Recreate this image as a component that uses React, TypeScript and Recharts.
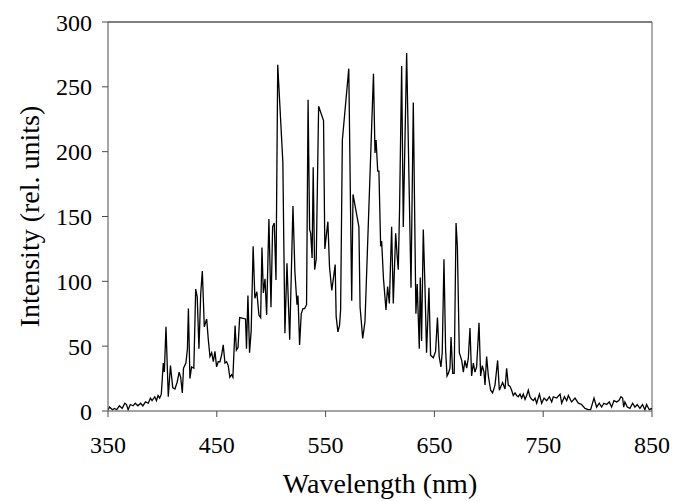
import { LineChart, Line, XAxis, YAxis, ReferenceLine, Label } from 'recharts'

// wavelength (nm) and intensity
const wavelengths = [
  350, 351.5, 354, 356, 358, 360.5, 363, 365.5, 367, 368.5, 370.5, 373, 375, 377.5, 380, 382, 384.5, 387, 389, 390.5,
  393, 394.5, 396, 397.5, 399, 400.8, 401.8, 403.3, 405.4, 407.4, 409.5, 411.5, 413.5, 415.4, 416.8, 418.3, 419.4, 421.6, 423, 423.9,
  425.3, 426.8, 428.9, 430.6, 432, 433.6, 435.2, 436.7, 438.5, 440.7, 442.2, 443.7, 445.3, 446.8, 448.3, 449.8, 451.3, 452.9, 454.4, 455.9,
  457.5, 459, 460.5, 462, 463.6, 464.8, 466.8, 468, 469.5, 471, 476.4, 477.3, 478.6, 480.1, 481.6, 483.4, 485, 486.8, 488.7, 490.3,
  491.5, 492.8, 494.3, 495.8, 497.9, 499.8, 501.3, 502.8, 504.4, 506, 510.7, 512.6, 514.5, 517, 520, 521.8, 523.7, 524.6, 526.1, 527.6,
  529.2, 530.7, 532.5, 533.9, 535.3, 536.3, 537.6, 538.6, 539.9, 541.4, 543.6, 548.1, 549.3, 552.1, 553.6, 555.7, 557.6, 558.8, 559.7, 561.3,
  562.8, 563.8, 565.4, 571.3, 574, 575.2, 580.6, 581.7, 584.1, 586.2, 594, 595.4, 596.4, 597.9, 599, 600.6, 601.5, 603.2, 605.5, 607,
  608.6, 610.7, 612.2, 614.4, 615.9, 616.8, 618, 619.9, 621.4, 624.5, 628.5, 630.6, 633, 634.2, 636.1, 637, 638.2, 639.8, 641.3, 642.8,
  645, 646.5, 649, 651.1, 652.8, 654.4, 656, 657.2, 658.8, 660.3, 661.6, 662.8, 664.3, 665.3, 666.8, 668.2, 669.9, 671.1, 672.9, 675.1,
  676.6, 678.1, 679.7, 681.2, 682.7, 684.2, 685.8, 687.3, 688.8, 691, 692.5, 694, 695.6, 696.5, 698, 699.6, 701.7, 703.5, 705.7, 708.1,
  709.7, 711.2, 712.7, 714.9, 716.4, 717.9, 719.5, 721, 722.5, 724.1, 725.6, 727.1, 728.7, 730.2, 731.7, 733.3, 734.8, 736.3, 737.8, 739.4,
  741, 742.5, 744, 746.5, 748.6, 750.8, 753.2, 755.7, 757.8, 759.3, 762.4, 765.5, 767, 769.5, 771.6, 773.1, 776.1, 779.2, 782.3, 785.3,
  788.4, 791.4, 793.6, 796.7, 799.1, 801.5, 803.7, 805.8, 808.3, 810.7, 812.9, 815, 817.5, 819.6, 821.5, 823, 824, 825.1, 827.3, 829.7,
  832.2, 834.3, 836.4, 838.9, 841.3, 843.5, 845, 847.5, 850,
]

const intensity = [
  1, 3, 1, 2, 1, 4, 2, 6, 5, 1, 5, 4, 6, 4, 6, 4, 7, 6, 10, 8,
  11, 8, 12, 10, 13, 37, 30, 65, 11, 35, 18, 17, 22, 30, 26, 14, 33, 37, 48, 79,
  25, 34, 33, 94, 88, 48, 90, 108, 65, 71, 55, 42, 45, 38, 46, 34, 38, 38, 43, 51,
  37, 38, 35, 26, 28, 26, 66, 47, 49, 72, 71, 48, 89, 45, 62, 127, 87, 92, 74, 72,
  126, 91, 102, 74, 148, 80, 142, 145, 101, 267, 192, 60, 114, 55, 158, 107, 82, 89, 51, 75,
  79, 79, 82, 240, 140, 137, 118, 188, 109, 117, 235, 224, 125, 146, 111, 93, 105, 113, 73, 61,
  66, 78, 209, 264, 85, 167, 142, 80, 56, 69, 260, 199, 209, 185, 185, 127, 131, 102, 78, 96,
  83, 142, 83, 137, 118, 109, 157, 266, 142, 276, 95, 238, 75, 98, 48, 103, 54, 140, 97, 45,
  95, 43, 41, 46, 72, 42, 34, 45, 117, 47, 27, 29, 33, 57, 29, 29, 145, 127, 45, 39,
  30, 39, 33, 41, 64, 27, 37, 30, 34, 68, 27, 35, 30, 20, 42, 27, 16, 14, 20, 39,
  16, 19, 22, 17, 33, 20, 19, 16, 12, 14, 12, 11, 13, 10, 13, 9, 12, 16, 11, 9,
  8, 10, 6, 13, 6, 10, 8, 11, 7, 11, 10, 13, 6, 11, 8, 12, 7, 10, 6, 5,
  2, 1, 1, 10, 3, 6, 3, 6, 5, 7, 3, 8, 7, 8, 11, 10, 3, 7, 3, 2,
  6, 3, 5, 2, 5, 1, 5, 1, 2,
]

const xTicks = [350, 450, 550, 650, 750, 850]
const yTicks = [0, 50, 100, 150, 200, 250, 300]

const data = wavelengths.map((wl, i) => ({ wl, value: intensity[i] }))

const FONT = "'Times New Roman', 'Liberation Serif', serif"
const AXIS = '#4a4a4a'

export default function App() {
  return (
    <div style={{ position: 'absolute', left: 0, top: 0, width: 673, height: 501, background: '#fff' }}>
      <LineChart width={673} height={501} data={data} margin={{ top: 22, right: 21, bottom: 30, left: 48 }}>
        <XAxis
          dataKey="wl"
          type="number"
          domain={[350, 850]}
          ticks={xTicks}
          allowDataOverflow
          height={60}
          stroke={AXIS}
          tickSize={6}
          tickMargin={19}
          tick={{ fontFamily: FONT, fontSize: 24, fill: '#000' }}
        >
          <Label
            content={({ viewBox }: any) => (
              <text x={viewBox.x + viewBox.width / 2} y={493} textAnchor="middle" fontFamily={FONT} fontSize={28} fill="#000">
                Wavelength (nm)
              </text>
            )}
          />
        </XAxis>
        <YAxis
          type="number"
          domain={[0, 300]}
          ticks={yTicks}
          width={60}
          stroke={AXIS}
          tickSize={6}
          tickMargin={10}
          tick={{ fontFamily: FONT, fontSize: 24, fill: '#000' }}
        >
          <Label
            content={({ viewBox }: any) => (
              <text
                x={29}
                y={viewBox.y + viewBox.height / 2}
                transform={`rotate(-90, 29, ${viewBox.y + viewBox.height / 2})`}
                textAnchor="middle"
                dominantBaseline="central"
                fontFamily={FONT}
                fontSize={28}
                fill="#000"
              >
                Intensity (rel. units)
              </text>
            )}
          />
        </YAxis>
        <ReferenceLine y={300} stroke="#000" strokeWidth={1.2} />
        <ReferenceLine x={850} stroke="#777" strokeWidth={1.2} />
        <Line
          type="linear"
          dataKey="value"
          stroke="#000"
          strokeWidth={1.3}
          dot={false}
          isAnimationActive={false}
        />
      </LineChart>
    </div>
  )
}
